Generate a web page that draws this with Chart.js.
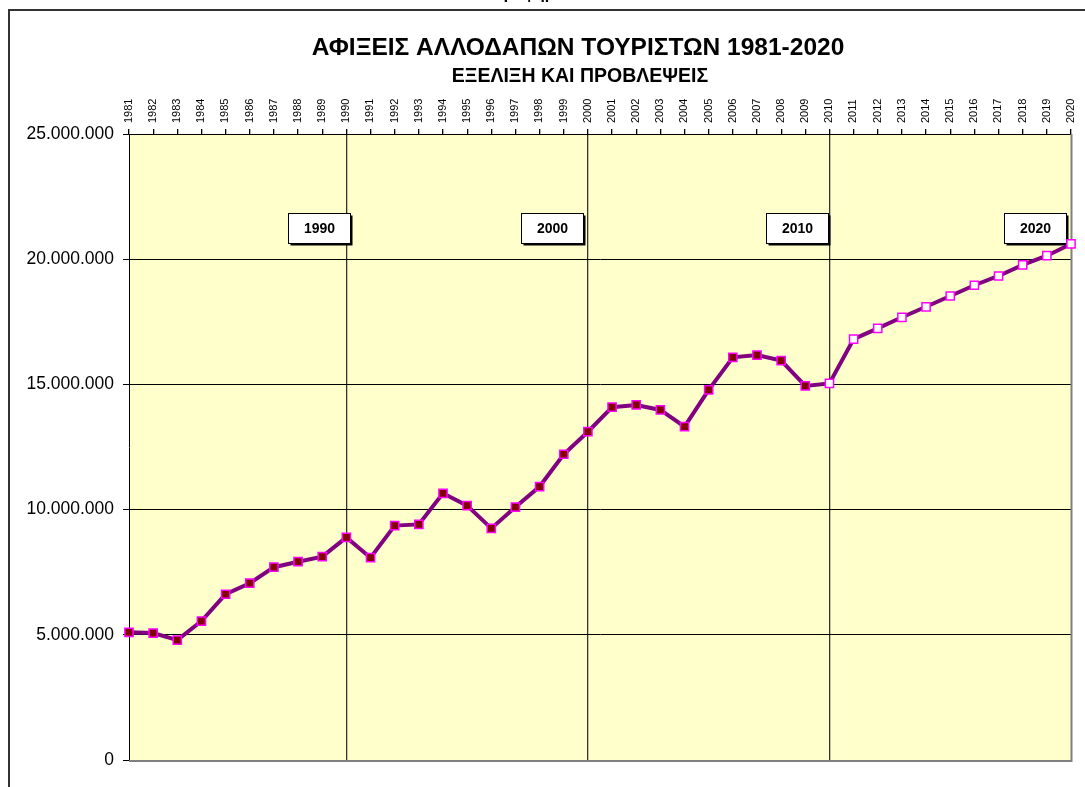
<!DOCTYPE html>
<html>
<head>
<meta charset="utf-8">
<script src="https://cdn.jsdelivr.net/npm/chart.js@4.4.1/dist/chart.umd.min.js"></script>
<style>
html,body{margin:0;padding:0;background:#fff;overflow:hidden}
#wrap{position:relative;width:1085px;height:787px}
</style>
</head>
<body>
<div id="wrap"><canvas id="c" width="1085" height="787"></canvas></div>
<script>
// ---- data ----
const years = ['1981','1982','1983','1984','1985','1986','1987','1988','1989','1990',
  '1991','1992','1993','1994','1995','1996','1997','1998','1999','2000',
  '2001','2002','2003','2004','2005','2006','2007','2008','2009','2010',
  '2011','2012','2013','2014','2015','2016','2017','2018','2019','2020'];
// foreign tourist arrivals (actual 1981-2010, forecast 2011-2020)
const arrivals = [5100000,5070000,4790000,5550000,6620000,7060000,7700000,7920000,8120000,8890000,
  8080000,9360000,9410000,10650000,10160000,9250000,10100000,10920000,12210000,13110000,
  14090000,14180000,13980000,13310000,14780000,16080000,16170000,15950000,14940000,15040000,
  16810000,17240000,17680000,18100000,18530000,18960000,19330000,19770000,20140000,20610000];
const forecastFrom = '2010';
const yTickValues = [0,5000000,10000000,15000000,20000000,25000000];
const decadeYears = ['1990','2000','2010'];
const boxLabels = ['1990','2000','2010','2020'];
const boxIndex = [7.85, 17.5, 27.65, 37.5];
const boxValue = 21250000;
const titleText = 'ΑΦΙΞΕΙΣ ΑΛΛΟΔΑΠΩΝ ΤΟΥΡΙΣΤΩΝ 1981-2020';
const subtitleText = 'ΕΞΕΛΙΞΗ ΚΑΙ ΠΡΟΒΛΕΨΕΙΣ';
const topCutText = 'Γράφημα 1';

const FONT = 'Arial, "Liberation Sans", sans-serif';
function fmt(v){ return String(Math.round(v)).replace(/\B(?=(\d{3})+(?!\d))/g,'.'); }

const decorPlugin = {
  id:'decor',
  beforeDraw(chart){
    const {ctx, chartArea:a} = chart;
    ctx.save();
    ctx.fillStyle='#fff'; ctx.fillRect(0,0,chart.width,chart.height);
    ctx.fillStyle='#FFFFCC'; ctx.fillRect(a.left,a.top,a.right-a.left,a.bottom-a.top);
    ctx.restore();
  },
  beforeDatasetsDraw(chart){
    const {ctx, chartArea:a, scales} = chart;
    ctx.save();
    ctx.strokeStyle='#808080'; ctx.lineWidth=2;
    ctx.beginPath(); ctx.moveTo(a.right+0.5,a.top); ctx.lineTo(a.right+0.5,a.bottom+1); ctx.lineTo(a.left,a.bottom+1); ctx.stroke();
    ctx.font='bold 14px '+FONT; ctx.textAlign='center'; ctx.textBaseline='middle';
    boxLabels.forEach((lab,i)=>{
      const cx = scales.x.getPixelForValue(boxIndex[i]);
      const cy = scales.y.getPixelForValue(boxValue);
      const w=62, h=30;
      const x=Math.round(cx-w/2)+0.5, y=Math.round(cy-h/2)+0.5;
      ctx.fillStyle='#000'; ctx.fillRect(x+2,y+2,w,h);
      ctx.fillStyle='#fff'; ctx.fillRect(x,y,w,h);
      ctx.strokeStyle='#000'; ctx.lineWidth=1; ctx.strokeRect(x,y,w,h);
      ctx.fillStyle='#000'; ctx.fillText(lab, x+w/2, y+h/2+1);
    });
    ctx.restore();
  },
  afterDraw(chart){
    const {ctx} = chart;
    ctx.save();
    ctx.strokeStyle='#333'; ctx.lineWidth=2;
    ctx.strokeRect(9,10,3000,3000);
    ctx.fillStyle='#000'; ctx.textAlign='center'; ctx.textBaseline='middle';
    ctx.font='bold 24.5px '+FONT; ctx.fillText(titleText, 578, 48);
    ctx.font='bold 19.5px '+FONT; ctx.fillText(subtitleText, 580, 77);
    ctx.textBaseline='alphabetic';
    ctx.font='bold 16px '+FONT; ctx.fillText(topCutText, 536, -1);
    ctx.restore();
  }
};

new Chart(document.getElementById('c'), {
  type:'line',
  data:{
    labels: years,
    datasets:[{
      data: arrivals,
      borderColor:'#800080',
      borderWidth:4,
      tension:0,
      clip:false,
      pointStyle:'rect',
      pointRadius:5.8,
      pointBorderWidth:1.5,
      pointBorderColor:'#FF00FF',
      pointBackgroundColor: years.map(y => Number(y) >= Number(forecastFrom) ? '#FFFFFF' : '#800000')
    }]
  },
  options:{
    responsive:false, animation:false, devicePixelRatio:1,
    layout:{padding:{left:0,right:14,top:0,bottom:27}},
    plugins:{legend:{display:false}, tooltip:{enabled:false}, title:{display:false}},
    scales:{
      x:{
        type:'category', position:'top', offset:false,
        grid:{
          color: c => (c.tick && decadeYears.includes(years[c.index])) ? '#333' : 'rgba(0,0,0,0)',
          lineWidth:1.3, tickColor:'#000', tickLength:5, drawOnChartArea:true
        },
        border:{display:true,color:'#000',width:1},
        ticks:{autoSkip:false, maxRotation:90, minRotation:90, color:'#000', padding:6, labelOffset:13,
          font:{family:FONT, size:11}},
        afterFit: s => { s.height = 134; }
      },
      y:{
        min:0, max:25000000,
        afterBuildTicks: s => { s.ticks = yTickValues.map(v => ({value:v})); },
        ticks:{callback: v => fmt(v), color:'#000', padding:9, font:{family:FONT, size:17.5}},
        grid:{color: c => (c.tick && c.tick.value===0) ? '#808080' : '#000', lineWidth:1, tickColor:'#000', tickLength:6},
        border:{display:true,color:'#000',width:1},
        afterFit: s => { s.width = 129; }
      }
    }
  },
  plugins:[decorPlugin]
});
</script>
</body>
</html>
